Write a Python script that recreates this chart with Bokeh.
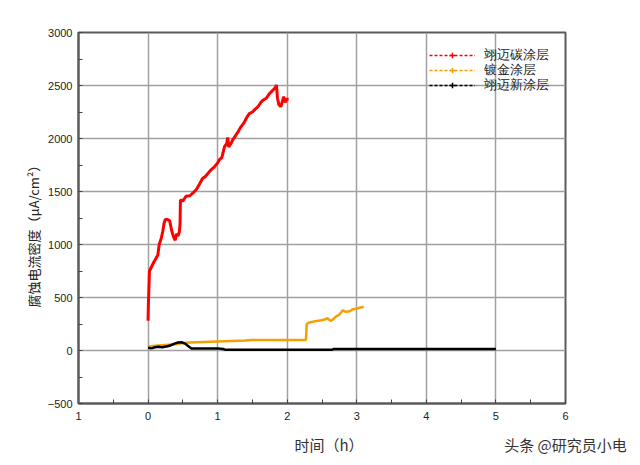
from bokeh.plotting import figure
from bokeh.models import (Range1d, FixedTicker, Legend, LegendItem, ColumnDataSource,
                          LinearAxis, Title)
from bokeh.embed import file_html
from bokeh.resources import INLINE

# ---- data ----
red_x = [0.0, 0.005, 0.01, 0.02, 0.05, 0.08, 0.115, 0.14, 0.16, 0.19, 0.21, 0.23, 0.245, 0.28, 0.31,
         0.34, 0.37, 0.39, 0.41, 0.43, 0.45, 0.46, 0.465, 0.5, 0.545, 0.6, 0.65, 0.69, 0.74, 0.785,
         0.82, 0.86, 0.905, 0.95, 1.0, 1.025, 1.06, 1.1, 1.13, 1.145, 1.16, 1.19, 1.215, 1.26, 1.3,
         1.335, 1.38, 1.42, 1.455, 1.5, 1.53, 1.58, 1.62, 1.65, 1.7, 1.74, 1.77, 1.8, 1.83, 1.845,
         1.86, 1.88, 1.91, 1.93, 1.95, 1.97, 1.99, 2.02]
red_y = [280, 450, 540, 750, 790, 830, 870, 900, 1000, 1060, 1120, 1200, 1235, 1235, 1225,
         1130, 1065, 1040, 1100, 1080, 1120, 1200, 1420, 1410, 1455, 1460, 1490, 1515, 1570, 1625,
         1640, 1670, 1705, 1730, 1770, 1800, 1820, 1925, 1950, 2010, 1920, 1950, 1985, 2030, 2070,
         2110, 2150, 2200, 2235, 2250, 2270, 2300, 2340, 2360, 2380, 2420, 2440, 2460, 2480, 2505,
         2380, 2320, 2300, 2350, 2395, 2340, 2370, 2370]

orange_x = [0.0, 0.05, 0.1, 0.2, 0.3, 0.4, 0.5, 0.6, 0.8, 1.0, 1.2, 1.4, 1.5, 2.27, 2.28, 2.32, 2.39,
            2.45, 2.53, 2.58, 2.6, 2.63, 2.67, 2.7, 2.75, 2.8, 2.84, 2.9, 2.94, 3.0, 3.05, 3.1]
orange_y = [35, 40, 45, 50, 55, 60, 70, 75, 80, 85, 90, 95, 100, 100, 250, 265, 275,
            280, 290, 305, 290, 280, 300, 320, 340, 380, 365, 370, 390, 395, 405, 410]

black_x = [0.0, 0.05, 0.1, 0.15, 0.2, 0.28, 0.33, 0.38, 0.43, 0.48, 0.53, 0.58, 0.62, 0.8, 1.0,
           1.08, 1.1, 2.65, 2.67, 5.0]
black_y = [25, 20, 30, 35, 30, 40, 50, 65, 75, 78, 65, 40, 20, 20, 20,
           15, 8, 8, 15, 15]

series_names = ["翊迈碳涂层", "镀金涂层", "翊迈新涂层"]
series_colors = ["#FF0000", "#F5A000", "#000000"]

x_ticks = [-1, 0, 1, 2, 3, 4, 5, 6]
x_tick_labels = ["1", "0", "1", "2", "3", "4", "5", "6"]
y_ticks = [-500, 0, 500, 1000, 1500, 2000, 2500, 3000]

x_title = "时间（h）"
y_title = "腐蚀电流密度（μA/cm²）"
watermark = "头条 @研究员小电"
# x positions (data units) where the bottom texts are centred
x_title_at = 2.6
watermark_at = 6.0

CJK = "Noto Sans CJK SC"

p = figure(width=640, height=465, output_backend="svg", toolbar_location=None,
           x_range=Range1d(-1, 6), y_range=Range1d(-500, 3000),
           min_border_left=78, min_border_right=75, min_border_top=32, min_border_bottom=62)
p.background_fill_color = "white"
p.border_fill_color = "white"
p.outline_line_color = "#5a5a5a"
p.outline_line_width = 2

for ax in (p.xaxis[0], p.yaxis[0]):
    ax.axis_line_color = "#5a5a5a"
    ax.axis_line_width = 2
    ax.major_tick_in = 4
    ax.major_tick_out = 0
    ax.minor_tick_in = 4
    ax.minor_tick_out = 0
    ax.major_tick_line_color = "#444444"
    ax.minor_tick_line_color = "#444444"
    ax.major_label_text_font = "Liberation Sans"
    ax.major_label_text_font_size = "11px"
    ax.major_label_text_color = "#222222"

p.xaxis.ticker = FixedTicker(ticks=x_ticks, minor_ticks=[v + 0.5 for v in x_ticks[:-1]])
p.xaxis.major_label_overrides = {t: l for t, l in zip(x_ticks, x_tick_labels)}
p.yaxis.ticker = FixedTicker(ticks=y_ticks, minor_ticks=[v + 250 for v in y_ticks[:-1]])
p.xaxis.major_label_standoff = 8
p.yaxis.major_label_standoff = 6

# y axis title as a side title so it can be offset along the axis
p.add_layout(Title(text=y_title, align="left", offset=96, standoff=4,
                   text_font=CJK, text_font_size="13px", text_font_style="normal",
                   text_color="#222222"), "left")

# second bottom axis carrying the x title and the watermark on one line
bottom = LinearAxis(ticker=FixedTicker(ticks=[x_title_at, watermark_at]),
                    major_label_overrides={x_title_at: x_title, watermark_at: watermark})
bottom.axis_line_alpha = 0
bottom.major_tick_in = 0
bottom.major_tick_out = 0
bottom.minor_tick_in = 0
bottom.minor_tick_out = 0
bottom.major_label_standoff = 11
bottom.major_label_text_font = CJK
bottom.major_label_text_font_size = "15px"
bottom.major_label_text_color = "#333333"
p.add_layout(bottom, "below")

p.xgrid.ticker = FixedTicker(ticks=x_ticks)
p.ygrid.ticker = FixedTicker(ticks=y_ticks)
for g in (p.xgrid[0], p.ygrid[0]):
    g.grid_line_color = "#a0a0a0"
    g.grid_line_width = 1.5

p.line(orange_x, orange_y, line_color=series_colors[1], line_width=2.5)
p.line(black_x, black_y, line_color=series_colors[2], line_width=2.5)
p.line(red_x, red_y, line_color=series_colors[0], line_width=3)

# one single-item legend per series so the row spacing can be set exactly
legend_rows_y = [339, 324, 309]
for name, col, ly in zip(series_names, series_colors, legend_rows_y):
    # legend-only renderers, placed off the visible ranges
    src = ColumnDataSource(data=dict(x=[-50, -49], y=[-90000, -90000]))
    r1 = p.line("x", "y", source=src, line_color=col, line_width=1.5, line_dash="3 2")
    r2 = p.scatter("x", "y", source=src, marker="cross", size=5, line_color=col, line_width=1.5)
    lg = Legend(items=[LegendItem(label=name, renderers=[r1, r2])], location=(351, ly))
    lg.background_fill_alpha = 0
    lg.border_line_alpha = 0
    lg.label_text_font = "Liberation Sans"
    lg.label_text_font_size = "13px"
    lg.label_text_color = "#222222"
    lg.glyph_width = 46
    lg.glyph_height = 14
    lg.label_height = 14
    lg.label_standoff = 9
    lg.spacing = 0
    lg.padding = 0
    lg.margin = 0
    p.add_layout(lg, "center")

open("out.html", "w").write(file_html(p, INLINE))
